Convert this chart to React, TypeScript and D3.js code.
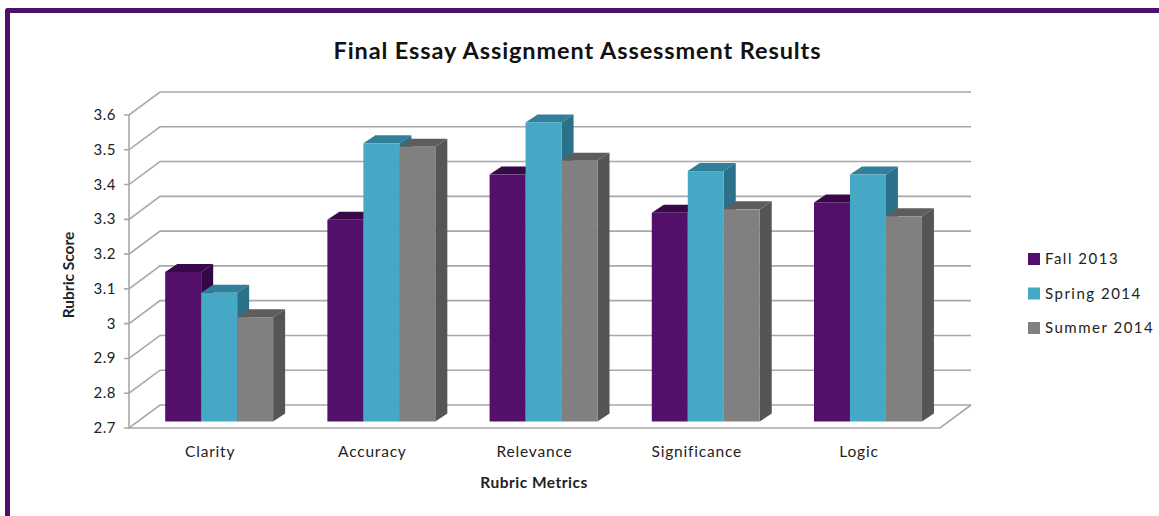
import React from 'react';
import * as d3 from 'd3';

const categories = ['Clarity', 'Accuracy', 'Relevance', 'Significance', 'Logic'];
const seriesNames = ['Fall 2013', 'Spring 2014', 'Summer 2014'];
const fall = [3.13, 3.28, 3.41, 3.3, 3.33];
const spring = [3.07, 3.5, 3.56, 3.42, 3.41];
const summer = [3.0, 3.49, 3.45, 3.31, 3.29];
const tickLabels = ['2.7', '2.8', '2.9', '3', '3.1', '3.2', '3.3', '3.4', '3.5', '3.6'];
const tickValues = tickLabels.map(Number);

const series = [fall, spring, summer];
const front = ['#52106b', '#45a9c6', '#808080'];
const top = ['#380848', '#31809b', '#5d5d5d'];
const side = ['#340745', '#2a7189', '#555555'];

const FONT = 'Lato, Carlito, sans-serif';
const GRID = '#a8a8a8';

// fake 3d offsets, same as the excel chart
const wall = { dx: 31, dy: -23 };
const base = { dx: 0, dy: -6.5 };
const depth = { dx: 12, dy: -8 };

const y = d3.scaleLinear().domain([2.7, 3.6]).range([428, 115]);
const x0 = d3
  .scaleBand<string>()
  .domain(categories)
  .range([129, 940])
  .paddingInner(0.3345)
  .paddingOuter(0.1672)
  .align(0.667);
const x1 = d3.scaleBand<number>().domain([0, 1, 2]).range([0, x0.bandwidth()]);

const poly = (pts: [number, number][]) => d3.line()(pts) + 'Z';

export default function App() {
  const y0 = y(2.7);
  const xL = x0.range()[0];
  const xR = x0.range()[1];
  return (
    <svg
      width={1159}
      height={516}
      viewBox="0 0 1159 516"
      style={{ position: 'fixed', left: 0, top: 0, background: '#fff' }}
    >
      <path d="M7.5 516V10.5H1159" fill="none" stroke="#4f1068" strokeWidth={5} strokeLinejoin="round" />

      <text x={577} y={59} textAnchor="middle" fontFamily={FONT} fontWeight={700} fontSize={23.5} fill="#111" textLength={487} lengthAdjust="spacing">
        Final Essay Assignment Assessment Results
      </text>

      {/* walls and floor */}
      <g fill="none" stroke={GRID} strokeWidth={1.6}>
        {tickValues.map((t) => (
          <path
            key={t}
            d={d3.line()([
              [xL - 5, y(t)],
              [xL, y(t)],
              [xL + wall.dx, y(t) + wall.dy],
              [xR + wall.dx, y(t) + wall.dy],
            ])!}
          />
        ))}
        <path d={d3.line()([[xL, y(3.6)], [xL, y0], [xR, y0], [xR + wall.dx, y0 + wall.dy]])!} />
      </g>

      {tickValues.map((t, i) => (
        <text key={t} x={116} y={y(t) + 5} textAnchor="end" fontFamily={FONT} fontSize={15} letterSpacing={0.5} fill="#222">
          {tickLabels[i]}
        </text>
      ))}

      {/* bars, left to right so the next one hides the side face */}
      {categories.map((c, ci) =>
        series.map((vals, si) => {
          const left = x0(c)! + x1(si)!;
          const right = left + x1.bandwidth();
          const yTop = y(vals[ci]) + base.dy;
          const yBot = y0 + base.dy;
          return (
            <g key={c + si}>
              <path
                d={poly([[left, yTop], [left + depth.dx, yTop + depth.dy], [right + depth.dx, yTop + depth.dy], [right, yTop]])}
                fill={top[si]}
              />
              <path
                d={poly([[right, yTop], [right + depth.dx, yTop + depth.dy], [right + depth.dx, yBot + depth.dy], [right, yBot]])}
                fill={side[si]}
              />
              <rect x={left} y={yTop} width={x1.bandwidth()} height={yBot - yTop} fill={front[si]} />
            </g>
          );
        })
      )}

      {categories.map((c) => (
        <text key={c} x={x0(c)! + x0.bandwidth() / 2 - 9} y={457} textAnchor="middle" fontFamily={FONT} fontSize={15.5} letterSpacing={0.8} fill="#222">
          {c}
        </text>
      ))}

      <text x={534} y={488} textAnchor="middle" fontFamily={FONT} fontWeight={700} fontSize={15.5} letterSpacing={0.5} fill="#222">
        Rubric Metrics
      </text>
      <text transform="translate(74,275) rotate(-90)" textAnchor="middle" fontFamily={FONT} fontWeight={700} fontSize={15.5} fill="#222">
        Rubric Score
      </text>

      {seriesNames.map((name, i) => (
        <g key={name}>
          <rect x={1028} y={253 + i * 34.5} width={12} height={12} fill={front[i]} />
          <text x={1045} y={264 + i * 34.5} fontFamily={FONT} fontSize={15} letterSpacing={1.5} fill="#222">
            {name}
          </text>
        </g>
      ))}
    </svg>
  );
}
